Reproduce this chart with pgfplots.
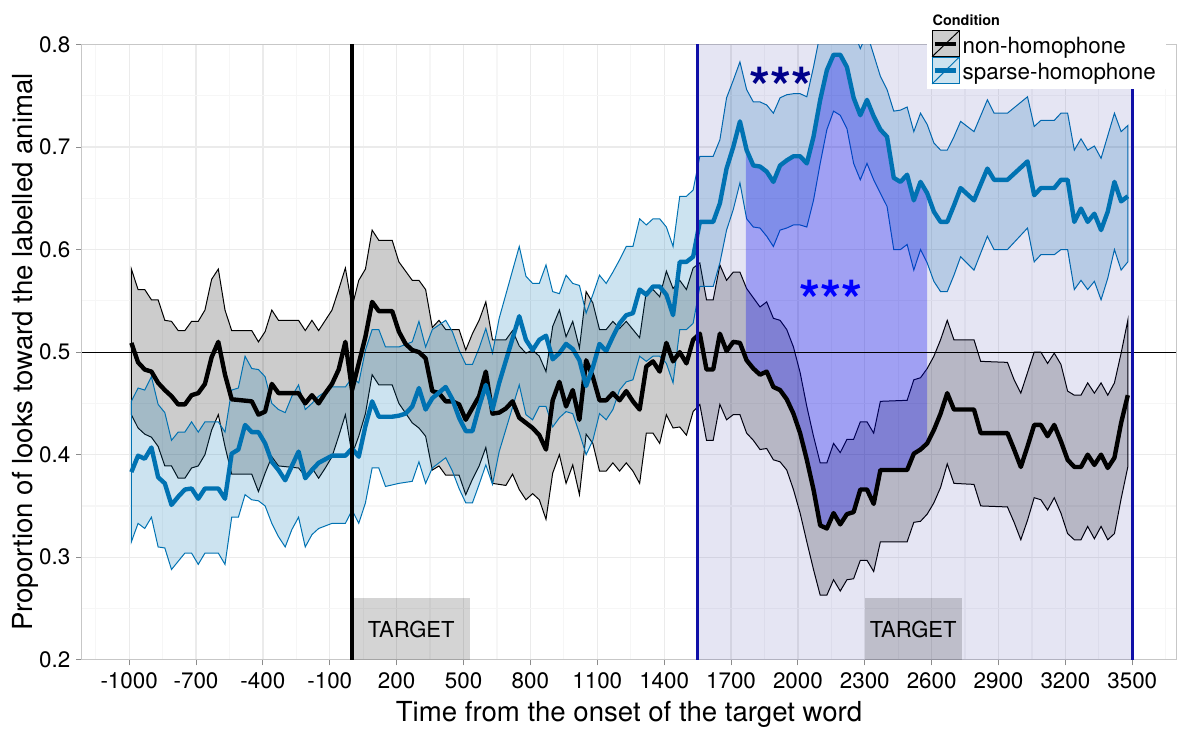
\documentclass[border=0pt]{standalone}
\usepackage{fontspec}
\setmainfont{TeX Gyre Heros}
\usepackage{pgfplots}
\pgfplotsset{compat=1.18}
\usepgfplotslibrary{fillbetween}
\definecolor{dkb}{HTML}{00008B}
\definecolor{vlc}{HTML}{1010A8}
\definecolor{shblue}{HTML}{0072B2}
\definecolor{shlight}{RGB}{204,227,240}
\begin{document}
\begin{tikzpicture}
\path (0,0) rectangle (588.3pt,364.5pt);
\begin{axis}[
  at={(40.85pt,34.5pt)}, anchor=south west,
  scale only axis, width=547.58pt, height=307.75pt,
  xmin=-1213, xmax=3698, ymin=0.2, ymax=0.8,
  xtick={-1000,-700,...,3500},
  xticklabels={-1000,-700,-400,-100,200,500,800,1100,1400,1700,2000,2300,2600,2900,3200,3500},
  minor xtick={-1150,-850,...,3650},
  ytick={0.2,0.3,0.4,0.5,0.6,0.7,0.8},
  yticklabels={0.2,0.3,0.4,0.5,0.6,0.7,0.8},
  minor ytick={0.25,0.35,0.45,0.55,0.65,0.75},
  grid=both,
  major grid style={black!8, line width=0.6pt},
  minor grid style={black!3.5, line width=0.6pt},
  tick align=outside, major tick length=2.8pt, minor tick length=0pt,
  xtick pos=bottom, ytick pos=left,
  tick style={black!45, line width=0.5pt},
  axis line style={black!22, line width=0.6pt},
  ticklabel style={font=\fontsize{11.2}{13}\selectfont},
  xticklabel style={anchor=north, inner sep=0pt, yshift=-3.65pt},
  yticklabel style={anchor=east, inner sep=0pt, xshift=-2.7pt},
  xlabel={Time from the onset of the target word},
  ylabel={Proportion of looks toward the labelled animal},
  label style={font=\fontsize{13.8}{16}\selectfont},
  xlabel style={at={(axis description cs:0.5,-0.1002)}, anchor=base},
  ylabel style={at={(axis description cs:-0.0446,0.5)}, anchor=base},
]
\fill[dkb, fill opacity=0.1] (axis cs:1550,0.2) rectangle (axis cs:3500,0.8);
\fill[black, fill opacity=0.17] (axis cs:0,0.2) rectangle (axis cs:530,0.26);
\fill[black, fill opacity=0.17] (axis cs:2300,0.2) rectangle (axis cs:2735,0.26);

% non-homophone mean
\addplot[name path=nhm, draw=black, line width=2.2pt, line join=round] coordinates {
(-990,0.509)(-960,0.490)(-930,0.483)(-900,0.481)(-870,0.470)(-840,0.463)(-810,0.457)(-780,0.449)(-750,0.449)(-720,0.458)(-690,0.460)(-660,0.469)(-630,0.495)(-600,0.510)(-570,0.478)(-540,0.454)(-450,0.452)(-420,0.439)(-390,0.442)(-360,0.469)(-330,0.460)(-240,0.460)(-210,0.450)(-180,0.458)(-150,0.450)(-120,0.460)(-90,0.469)(-60,0.483)(-30,0.510)(0,0.463)(30,0.489)(60,0.515)(90,0.549)(120,0.540)(180,0.540)(210,0.520)(240,0.508)(270,0.502)(300,0.500)(330,0.494)(360,0.462)(390,0.460)(420,0.452)(450,0.452)(480,0.449)(510,0.434)(570,0.457)(600,0.481)(630,0.440)(660,0.441)(690,0.445)(720,0.452)(750,0.436)(780,0.431)(810,0.426)(840,0.419)(870,0.405)(900,0.453)(930,0.471)(960,0.447)(990,0.463)(1020,0.434)(1050,0.492)(1080,0.476)(1110,0.453)(1140,0.453)(1170,0.460)(1200,0.453)(1230,0.462)(1260,0.452)(1290,0.444)(1320,0.486)(1350,0.491)(1380,0.481)(1410,0.509)(1440,0.491)(1470,0.500)(1500,0.489)(1530,0.512)(1560,0.518)(1590,0.483)(1620,0.483)(1650,0.518)(1680,0.501)(1710,0.510)(1740,0.509)(1770,0.492)(1800,0.484)(1830,0.478)(1860,0.481)(1890,0.466)(1920,0.463)(1950,0.454)(1980,0.440)(2010,0.421)(2040,0.395)(2070,0.366)(2100,0.331)(2130,0.328)(2160,0.343)(2190,0.332)(2220,0.342)(2250,0.344)(2280,0.366)(2310,0.366)(2340,0.352)(2370,0.385)(2490,0.385)(2520,0.401)(2550,0.405)(2580,0.411)(2610,0.424)(2640,0.440)(2670,0.460)(2700,0.444)(2790,0.444)(2820,0.421)(2940,0.421)(2970,0.405)(3000,0.388)(3030,0.408)(3060,0.429)(3090,0.429)(3120,0.418)(3150,0.429)(3180,0.413)(3210,0.395)(3240,0.388)(3270,0.388)(3300,0.400)(3330,0.390)(3360,0.400)(3390,0.387)(3420,0.397)(3450,0.431)(3480,0.458)
};
% sparse-homophone mean
\addplot[name path=shm, draw=shblue, line width=2.2pt, line join=round] coordinates {
(-990,0.383)(-960,0.399)(-930,0.396)(-900,0.407)(-870,0.378)(-840,0.372)(-810,0.351)(-780,0.359)(-750,0.366)(-720,0.367)(-690,0.357)(-660,0.367)(-600,0.367)(-570,0.357)(-540,0.401)(-510,0.405)(-480,0.429)(-450,0.422)(-420,0.422)(-390,0.411)(-360,0.393)(-330,0.385)(-300,0.375)(-270,0.389)(-240,0.403)(-210,0.377)(-180,0.385)(-150,0.392)(-90,0.399)(-30,0.399)(0,0.406)(30,0.398)(60,0.428)(90,0.452)(120,0.437)(180,0.437)(210,0.438)(240,0.440)(270,0.447)(300,0.465)(330,0.444)(360,0.455)(420,0.466)(450,0.454)(480,0.436)(510,0.423)(540,0.423)(570,0.447)(600,0.468)(630,0.444)(660,0.470)(750,0.535)(780,0.512)(810,0.502)(840,0.512)(870,0.516)(900,0.493)(930,0.499)(960,0.508)(990,0.503)(1020,0.492)(1050,0.467)(1080,0.485)(1110,0.508)(1140,0.501)(1170,0.515)(1200,0.528)(1230,0.536)(1260,0.538)(1290,0.561)(1320,0.556)(1350,0.564)(1380,0.564)(1410,0.556)(1440,0.536)(1470,0.588)(1500,0.588)(1530,0.593)(1560,0.627)(1620,0.627)(1650,0.645)(1680,0.679)(1710,0.700)(1740,0.725)(1770,0.697)(1800,0.682)(1830,0.681)(1860,0.676)(1890,0.666)(1920,0.682)(1950,0.687)(1980,0.691)(2010,0.691)(2040,0.684)(2070,0.710)(2100,0.746)(2130,0.775)(2160,0.790)(2190,0.790)(2220,0.778)(2250,0.748)(2280,0.731)(2310,0.746)(2340,0.730)(2370,0.717)(2400,0.710)(2430,0.670)(2460,0.666)(2490,0.673)(2520,0.648)(2550,0.666)(2580,0.655)(2610,0.637)(2640,0.627)(2670,0.627)(2700,0.643)(2730,0.660)(2790,0.648)(2850,0.679)(2880,0.668)(2940,0.668)(3030,0.686)(3060,0.653)(3090,0.660)(3150,0.660)(3180,0.668)(3210,0.668)(3240,0.627)(3270,0.640)(3300,0.627)(3330,0.635)(3360,0.619)(3390,0.637)(3420,0.666)(3450,0.647)(3480,0.652)
};
% non-homophone ribbon
\addplot[draw=none, name path=nhu] coordinates {
(-990,0.581)(-960,0.561)(-930,0.561)(-900,0.551)(-870,0.551)(-840,0.531)(-810,0.530)(-780,0.521)(-750,0.521)(-720,0.530)(-690,0.530)(-660,0.541)(-630,0.571)(-600,0.581)(-570,0.541)(-540,0.521)(-450,0.521)(-420,0.510)(-390,0.520)(-360,0.541)(-330,0.531)(-240,0.531)(-210,0.521)(-180,0.531)(-150,0.521)(-120,0.531)(-90,0.541)(-60,0.561)(-30,0.582)(0,0.544)(30,0.570)(60,0.581)(90,0.619)(120,0.609)(180,0.609)(210,0.588)(270,0.570)(300,0.570)(330,0.561)(360,0.524)(390,0.531)(420,0.522)(480,0.522)(510,0.502)(540,0.518)(570,0.531)(600,0.549)(630,0.512)(690,0.512)(720,0.521)(750,0.506)(780,0.499)(810,0.502)(840,0.496)(870,0.481)(900,0.525)(930,0.541)(960,0.515)(990,0.530)(1020,0.504)(1050,0.559)(1080,0.548)(1110,0.522)(1140,0.522)(1170,0.530)(1200,0.523)(1230,0.530)(1260,0.522)(1290,0.514)(1320,0.559)(1350,0.561)(1380,0.554)(1410,0.579)(1440,0.562)(1470,0.570)(1500,0.561)(1530,0.582)(1560,0.587)(1590,0.551)(1620,0.551)(1650,0.585)(1680,0.570)(1710,0.578)(1740,0.578)(1770,0.562)(1800,0.553)(1830,0.544)(1860,0.549)(1890,0.533)(1920,0.531)(1950,0.522)(1980,0.505)(2010,0.480)(2040,0.447)(2070,0.418)(2100,0.392)(2130,0.392)(2160,0.411)(2190,0.402)(2220,0.415)(2250,0.415)(2280,0.432)(2310,0.432)(2340,0.421)(2370,0.452)(2490,0.453)(2520,0.473)(2550,0.475)(2580,0.484)(2610,0.496)(2640,0.512)(2670,0.531)(2700,0.512)(2790,0.512)(2820,0.491)(2940,0.490)(2970,0.473)(3000,0.460)(3030,0.480)(3060,0.500)(3090,0.500)(3120,0.489)(3150,0.499)(3180,0.488)(3210,0.462)(3240,0.458)(3270,0.458)(3300,0.470)(3330,0.460)(3360,0.470)(3390,0.458)(3420,0.470)(3450,0.499)(3480,0.531)
};
\addplot[draw=none, name path=nhl] coordinates {
(-990,0.439)(-960,0.426)(-930,0.420)(-900,0.417)(-870,0.408)(-840,0.389)(-810,0.389)(-780,0.377)(-750,0.377)(-720,0.387)(-690,0.389)(-660,0.400)(-630,0.424)(-600,0.439)(-570,0.408)(-540,0.381)(-450,0.381)(-420,0.364)(-390,0.382)(-360,0.398)(-330,0.389)(-240,0.387)(-210,0.379)(-180,0.387)(-150,0.377)(-120,0.387)(-90,0.398)(-60,0.418)(-30,0.439)(0,0.400)(30,0.418)(60,0.440)(90,0.478)(120,0.468)(180,0.468)(210,0.450)(270,0.431)(300,0.426)(330,0.418)(360,0.385)(390,0.389)(420,0.380)(480,0.380)(510,0.361)(540,0.376)(570,0.389)(600,0.407)(630,0.372)(690,0.370)(720,0.381)(750,0.366)(780,0.356)(810,0.362)(840,0.356)(870,0.337)(900,0.382)(930,0.400)(960,0.372)(990,0.390)(1020,0.361)(1050,0.420)(1080,0.411)(1110,0.384)(1140,0.384)(1170,0.392)(1200,0.384)(1230,0.392)(1260,0.384)(1290,0.372)(1320,0.421)(1350,0.421)(1380,0.411)(1410,0.439)(1440,0.426)(1470,0.427)(1500,0.419)(1530,0.442)(1560,0.449)(1590,0.414)(1620,0.414)(1650,0.449)(1680,0.434)(1710,0.439)(1740,0.439)(1770,0.421)(1800,0.414)(1830,0.405)(1860,0.406)(1890,0.395)(1920,0.393)(1950,0.385)(1980,0.366)(2010,0.343)(2040,0.315)(2070,0.288)(2100,0.263)(2130,0.263)(2160,0.278)(2190,0.267)(2220,0.278)(2250,0.279)(2280,0.297)(2310,0.297)(2340,0.286)(2370,0.315)(2490,0.315)(2520,0.334)(2550,0.335)(2580,0.342)(2610,0.353)(2640,0.368)(2670,0.391)(2700,0.372)(2790,0.371)(2820,0.350)(2940,0.349)(2970,0.334)(3000,0.317)(3030,0.336)(3060,0.358)(3090,0.356)(3120,0.346)(3150,0.358)(3180,0.343)(3210,0.323)(3240,0.317)(3270,0.317)(3300,0.330)(3330,0.318)(3360,0.330)(3390,0.317)(3420,0.323)(3450,0.357)(3480,0.388)
};
\addplot[fill=black, fill opacity=0.2, draw=black, line width=0.5pt] fill between[of=nhu and nhl];
% sparse-homophone ribbon
\addplot[draw=none, name path=shu] coordinates {
(-990,0.452)(-960,0.465)(-930,0.463)(-900,0.476)(-870,0.449)(-840,0.441)(-810,0.414)(-780,0.422)(-750,0.422)(-720,0.432)(-690,0.422)(-660,0.432)(-600,0.432)(-570,0.422)(-540,0.463)(-510,0.465)(-480,0.496)(-450,0.484)(-420,0.483)(-390,0.476)(-360,0.450)(-330,0.444)(-300,0.441)(-270,0.457)(-240,0.468)(-210,0.444)(-180,0.450)(-150,0.457)(-90,0.466)(-30,0.466)(0,0.475)(30,0.470)(60,0.502)(90,0.522)(120,0.522)(150,0.505)(210,0.505)(270,0.510)(300,0.530)(330,0.505)(360,0.522)(420,0.531)(450,0.520)(480,0.502)(510,0.488)(540,0.488)(570,0.504)(600,0.523)(630,0.499)(660,0.533)(750,0.603)(780,0.574)(810,0.567)(840,0.567)(870,0.585)(900,0.559)(930,0.557)(960,0.575)(990,0.567)(1020,0.565)(1050,0.538)(1080,0.556)(1110,0.575)(1140,0.567)(1170,0.578)(1200,0.590)(1230,0.603)(1260,0.603)(1290,0.630)(1320,0.624)(1350,0.630)(1380,0.630)(1410,0.622)(1440,0.603)(1470,0.652)(1500,0.652)(1530,0.658)(1560,0.691)(1620,0.691)(1650,0.707)(1680,0.748)(1710,0.765)(1740,0.783)(1770,0.756)(1800,0.744)(1830,0.744)(1860,0.741)(1890,0.733)(1920,0.748)(1950,0.751)(1980,0.752)(2010,0.752)(2040,0.749)(2070,0.778)(2100,0.811)(2130,0.840)(2160,0.855)(2190,0.855)(2220,0.843)(2250,0.813)(2280,0.796)(2310,0.811)(2340,0.790)(2370,0.769)(2400,0.756)(2430,0.735)(2460,0.736)(2490,0.739)(2520,0.715)(2550,0.733)(2580,0.722)(2610,0.704)(2640,0.697)(2670,0.697)(2700,0.710)(2730,0.725)(2790,0.715)(2850,0.746)(2880,0.733)(2940,0.733)(3030,0.749)(3060,0.720)(3090,0.726)(3150,0.726)(3180,0.733)(3210,0.733)(3240,0.697)(3270,0.708)(3300,0.697)(3330,0.701)(3360,0.689)(3390,0.711)(3420,0.733)(3450,0.715)(3480,0.721)
};
\addplot[draw=none, name path=shl] coordinates {
(-990,0.315)(-960,0.333)(-930,0.328)(-900,0.339)(-870,0.310)(-840,0.309)(-810,0.288)(-780,0.296)(-750,0.304)(-720,0.304)(-690,0.293)(-660,0.304)(-600,0.304)(-570,0.293)(-540,0.339)(-510,0.339)(-480,0.361)(-450,0.356)(-420,0.355)(-390,0.350)(-360,0.333)(-330,0.320)(-300,0.310)(-270,0.327)(-240,0.339)(-210,0.310)(-180,0.322)(-150,0.328)(-90,0.333)(-30,0.333)(0,0.346)(30,0.333)(60,0.353)(90,0.387)(120,0.387)(150,0.369)(210,0.372)(270,0.374)(300,0.393)(330,0.372)(360,0.387)(420,0.397)(450,0.384)(480,0.367)(510,0.353)(540,0.353)(570,0.371)(600,0.390)(630,0.371)(660,0.403)(750,0.468)(780,0.439)(810,0.434)(840,0.447)(870,0.447)(900,0.427)(930,0.436)(960,0.442)(990,0.440)(1020,0.421)(1050,0.400)(1080,0.414)(1110,0.440)(1140,0.434)(1170,0.444)(1200,0.463)(1230,0.471)(1260,0.473)(1290,0.496)(1320,0.491)(1350,0.496)(1380,0.496)(1410,0.489)(1440,0.470)(1470,0.522)(1500,0.522)(1530,0.528)(1560,0.564)(1620,0.564)(1650,0.587)(1680,0.619)(1710,0.639)(1740,0.665)(1770,0.630)(1800,0.622)(1830,0.621)(1860,0.613)(1890,0.603)(1920,0.619)(1950,0.621)(1980,0.624)(2010,0.624)(2040,0.622)(2070,0.648)(2100,0.684)(2130,0.717)(2160,0.735)(2190,0.731)(2220,0.718)(2250,0.684)(2280,0.668)(2310,0.684)(2340,0.668)(2370,0.655)(2400,0.642)(2430,0.600)(2460,0.600)(2490,0.605)(2520,0.580)(2550,0.600)(2580,0.587)(2610,0.569)(2640,0.559)(2670,0.559)(2700,0.575)(2730,0.593)(2790,0.580)(2850,0.613)(2880,0.600)(2940,0.600)(3030,0.621)(3060,0.588)(3090,0.595)(3150,0.595)(3180,0.600)(3210,0.600)(3240,0.561)(3270,0.570)(3300,0.561)(3330,0.569)(3360,0.551)(3390,0.572)(3420,0.600)(3450,0.580)(3480,0.588)
};
\addplot[fill=shblue, fill opacity=0.2, draw=shblue, line width=0.5pt] fill between[of=shu and shl];
% significant difference region
\addplot[fill=blue, fill opacity=0.3, draw=none] fill between[of=shm and nhm, soft clip={domain=1767:2580}];

\draw[black, line width=0.5pt] (axis cs:-1213,0.5) -- (axis cs:3698,0.5);
\draw[black, line width=2.2pt] (axis cs:0,0.2) -- (axis cs:0,0.8);
\draw[vlc, line width=1.6pt] (axis cs:1550,0.2) -- (axis cs:1550,0.8);
\draw[vlc, line width=1.6pt] (axis cs:3500,0.2) -- (axis cs:3500,0.8);
\node[font=\fontsize{11}{13}\selectfont, text=black, inner sep=0pt] at (axis cs:265,0.23) {TARGET};
\node[font=\fontsize{11}{13}\selectfont, text=black, inner sep=0pt] at (axis cs:2517,0.23) {TARGET};
\node[font=\fontsize{27}{30}\selectfont\bfseries, text=dkb, anchor=base, inner sep=0pt, yshift=-15.3pt] at (axis cs:1922,0.769) {***};
\node[font=\fontsize{27}{30}\selectfont\bfseries, text=blue, anchor=base, inner sep=0pt, yshift=-15.3pt] at (axis cs:2147,0.5617) {***};
\end{axis}
% legend
\fill[white] (463.5pt,319.85pt) rectangle (583pt,362pt);
\node[anchor=base west, inner sep=0pt, font=\fontsize{7.2}{8}\selectfont\bfseries] at (466.35pt,351.7pt) {Condition};
\filldraw[fill=black!20, draw=black, line width=0.5pt] (466.2pt,336.15pt) rectangle (479.7pt,349pt);
\draw[black, line width=0.5pt] (466.2pt,336.15pt) -- (479.7pt,349pt);
\draw[black, line width=2.2pt] (467.6pt,342.6pt) -- (478.3pt,342.6pt);
\filldraw[fill=shlight, draw=shblue, line width=0.5pt] (466.2pt,322.5pt) rectangle (479.7pt,335.85pt);
\draw[shblue, line width=0.5pt] (466.2pt,322.5pt) -- (479.7pt,335.85pt);
\draw[shblue, line width=2.2pt] (467.6pt,329.2pt) -- (478.3pt,329.2pt);
\node[anchor=base west, inner sep=0pt, font=\fontsize{11.2}{13}\selectfont] at (481.35pt,337.85pt) {non-homophone};
\node[anchor=base west, inner sep=0pt, font=\fontsize{11.2}{13}\selectfont] at (481.35pt,324.8pt) {sparse-homophone};
\end{tikzpicture}
\end{document}
